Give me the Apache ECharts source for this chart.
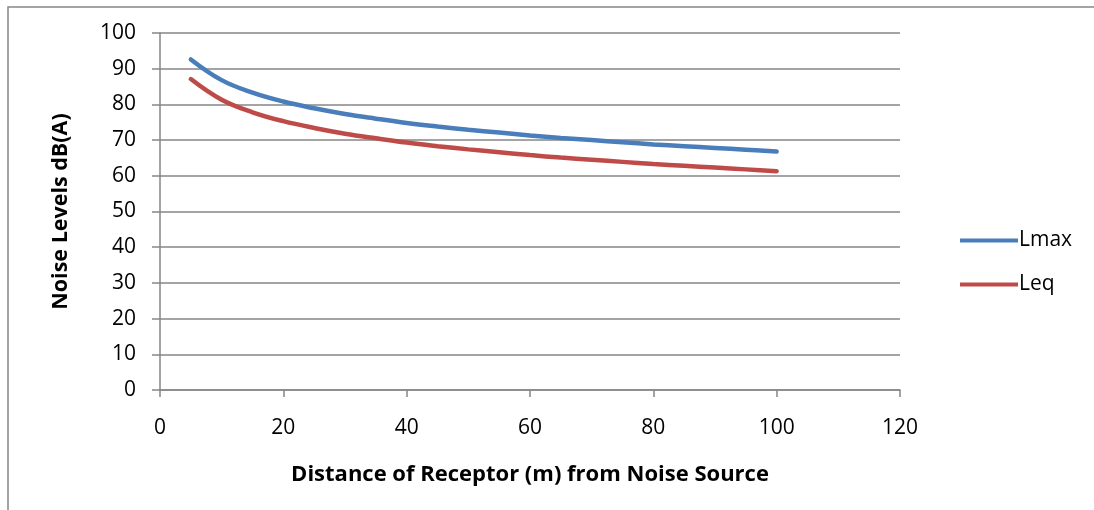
<!DOCTYPE html>
<html>
<head>
<meta charset="utf-8">
<script src="https://cdn.jsdelivr.net/npm/echarts@6/dist/echarts.min.js"></script>
<style>
html,body{margin:0;padding:0;background:#fff;}
#main{width:1094px;height:510px;}
</style>
</head>
<body>
<div id="main"></div>
<script>
// distance from source (m)
var distList = [5, 10, 15, 20, 25, 30, 35, 40, 45, 50, 55, 60, 65, 70, 75, 80, 85, 90, 95, 100];
// noise levels dB(A)
var lmaxList = [92.6, 86.8, 83.3, 80.8, 78.9, 77.3, 76.0, 74.8, 73.8, 72.9, 72.1, 71.3, 70.6, 70.0, 69.4, 68.8, 68.3, 67.8, 67.3, 66.8];
var leqList = [87.1, 81.3, 77.8, 75.3, 73.4, 71.8, 70.5, 69.3, 68.3, 67.4, 66.6, 65.8, 65.1, 64.5, 63.9, 63.3, 62.8, 62.3, 61.8, 61.3];

function pairs(xs, ys) {
    var out = [];
    for (var i = 0; i < xs.length; i++) {
        out.push([xs[i], ys[i]]);
    }
    return out;
}

var myChart = echarts.init(document.getElementById("main"));
var fontFam = "'Open Sans', sans-serif";
var option = {
    animation: false,
    textStyle: { fontFamily: fontFam },
    graphic: [{
        type: 'rect',
        shape: { x: 8, y: 7, width: 1100, height: 520 },
        style: { fill: 'none', stroke: '#868686', lineWidth: 1.5 },
        silent: true
    }],
    grid: { left: 160, top: 33, width: 740, height: 357, containLabel: false },
    legend: {
        orient: 'vertical',
        left: 955,
        top: 225,
        itemWidth: 58,
        itemHeight: 4,
        itemGap: 23,
        icon: 'rect',
        textStyle: { fontSize: 21, color: '#000', fontFamily: fontFam, padding: [0, 0, 0, -4] },
        data: ['Lmax', 'Leq']
    },
    xAxis: {
        type: 'value',
        min: 0, max: 120, interval: 20,
        name: 'Distance of Receptor (m) from Noise Source',
        nameLocation: 'middle',
        nameGap: 74,
        nameTextStyle: { fontSize: 22, fontWeight: 'bold', color: '#000', fontFamily: fontFam },
        axisLine: { lineStyle: { color: '#868686', width: 1.5 } },
        axisTick: { show: true, length: 7, lineStyle: { color: '#868686', width: 1.5 } },
        axisLabel: { fontSize: 21, color: '#000', margin: 28 },
        splitLine: { show: false }
    },
    yAxis: {
        type: 'value',
        min: 0, max: 100, interval: 10,
        name: 'Noise Levels dB(A)',
        nameLocation: 'middle',
        nameGap: 88,
        nameTextStyle: { fontSize: 21.5, fontWeight: 'bold', color: '#000', fontFamily: fontFam },
        axisLine: { show: true, lineStyle: { color: '#868686', width: 1.5 } },
        axisTick: { show: true, length: 8, lineStyle: { color: '#868686', width: 1.5 } },
        axisLabel: { fontSize: 21, color: '#000', margin: 24 },
        splitLine: { show: true, lineStyle: { color: '#868686', width: 1.5 } }
    },
    series: [
        {
            name: 'Lmax',
            type: 'line',
            smooth: 0.4,
            showSymbol: false,
            symbol: 'none',
            data: pairs(distList, lmaxList),
            lineStyle: { color: '#4A7EBB', width: 4.5, cap: 'round' },
            itemStyle: { color: '#4A7EBB' }
        },
        {
            name: 'Leq',
            type: 'line',
            smooth: 0.4,
            showSymbol: false,
            symbol: 'none',
            data: pairs(distList, leqList),
            lineStyle: { color: '#BE4B48', width: 4.5, cap: 'round' },
            itemStyle: { color: '#BE4B48' }
        }
    ]
};
myChart.setOption(option);
</script>
</body>
</html>
